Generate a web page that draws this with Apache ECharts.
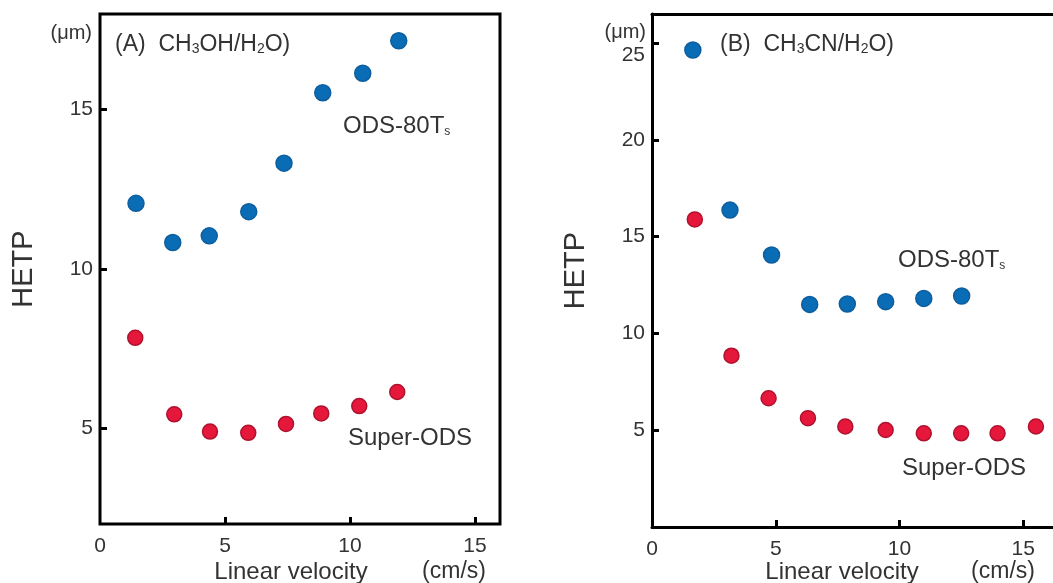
<!DOCTYPE html>
<html>
<head>
<meta charset="utf-8">
<script src="https://cdn.jsdelivr.net/npm/echarts@6/dist/echarts.min.js"></script>
<style>html,body{margin:0;padding:0;background:#fff;}#c{width:1053px;height:583px;}</style>
</head>
<body>
<div id="c"></div>
<script>
// Panel A: CH3OH/H2O
const aOdsX = [1.44, 2.91, 4.37, 5.95, 7.36, 8.91, 10.51, 11.95];
const aOdsY = [12.06, 10.83, 11.04, 11.80, 13.32, 15.53, 16.14, 17.16];
const aSupX = [1.41, 2.97, 4.40, 5.93, 7.44, 8.85, 10.37, 11.89];
const aSupY = [7.84, 5.44, 4.90, 4.86, 5.14, 5.47, 5.70, 6.14];
// Panel B: CH3CN/H2O
const bOdsX = [1.65, 3.15, 4.83, 6.37, 7.89, 9.44, 10.98, 12.51];
const bOdsY = [24.64, 16.37, 14.05, 11.50, 11.52, 11.64, 11.81, 11.93];
const bSupX = [1.73, 3.21, 4.71, 6.30, 7.81, 9.44, 10.98, 12.49, 13.96, 15.51];
const bSupY = [15.89, 8.85, 6.65, 5.62, 5.19, 5.01, 4.84, 4.84, 4.84, 5.19];
// tick labels
const xLabels = [0, 5, 10, 15];
const xTicks = [5, 10, 15];
const aYTicks = [5, 10, 15];
const bYTicks = [5, 10, 15, 20, 25];

const FONT = "'Liberation Sans', Arial, Helvetica, sans-serif";
const TXT = '#333';
const BLUE = '#0b6cb6';
const RED = '#e5173b';
const LINE = { color: '#000', width: 3 };

function pairs(xs, ys) { return xs.map((x, i) => [x, ys[i]]); }

function xAxis(gi, max, showLine) {
  return {
    type: 'value', gridIndex: gi, min: 0, max: max,
    axisLine: { show: showLine, onZero: false, lineStyle: LINE },
    splitLine: { show: false },
    axisTick: { show: true, inside: true, length: 7, customValues: xTicks, lineStyle: LINE },
    axisLabel: { customValues: xLabels, margin: 12, fontSize: 21, color: TXT, fontFamily: FONT }
  };
}
function yAxis(gi, min, max, ticks, showLine) {
  return {
    type: 'value', gridIndex: gi, min: min, max: max,
    name: 'HETP', nameLocation: 'middle', nameGap: 62, nameRotate: 90,
    nameTextStyle: { fontSize: 29, color: TXT, fontFamily: FONT },
    axisLine: { show: showLine, onZero: false, lineStyle: LINE },
    splitLine: { show: false },
    axisTick: { show: true, inside: true, length: 7, customValues: ticks, lineStyle: LINE },
    axisLabel: {
      customValues: ticks, margin: 7, fontSize: 21, color: TXT, fontFamily: FONT,
      formatter: v => (v === 25 ? '{low|' + v + '}' : '' + v),
      rich: { low: { fontSize: 21, color: TXT, fontFamily: FONT, padding: [24, 0, 0, 0] } }
    }
  };
}
function scatter(name, xi, yi, data, color, border, size) {
  return {
    type: 'scatter', name: name, xAxisIndex: xi, yAxisIndex: yi, data: data,
    symbol: 'circle', symbolSize: size,
    itemStyle: { color: color, borderColor: border, borderWidth: 1.5, opacity: 1 },
    emphasis: { disabled: true }, animation: false
  };
}
function txt(x, y, text, align, size, rich) {
  return {
    type: 'text', x: x, y: y, silent: true,
    style: { text: text, fill: TXT, font: size + 'px ' + FONT, align: align, verticalAlign: 'middle', rich: rich }
  };
}
const subRich = {
  n: { fontSize: 23, fontFamily: FONT, color: TXT, lineHeight: 28, verticalAlign: 'bottom' },
  s: { fontSize: 14, fontFamily: FONT, color: TXT, lineHeight: 20, verticalAlign: 'bottom' }
};
const odsRich = {
  n: { fontSize: 24, fontFamily: FONT, color: TXT, lineHeight: 30, verticalAlign: 'bottom' },
  s: { fontSize: 12, fontFamily: FONT, color: TXT, lineHeight: 19, verticalAlign: 'bottom' }
};

const option = {
  backgroundColor: '#fff',
  animation: false,
  grid: [
    { left: 100, top: 14, width: 400, height: 510, show: true, borderColor: '#000', borderWidth: 3, backgroundColor: 'transparent' },
    { left: 652, top: 14, right: 0, height: 513, show: false }
  ],
  xAxis: [
    xAxis(0, 16, false),
    xAxis(1, 16.2, true),
    { type: 'value', gridIndex: 1, position: 'top', min: 0, max: 16.2,
      axisLine: { show: true, onZero: false, lineStyle: LINE },
      axisTick: { show: false }, axisLabel: { show: false }, splitLine: { show: false } }
  ],
  yAxis: [yAxis(0, 2, 18, aYTicks, false), yAxis(1, 0, 26.5, bYTicks, true)],
  series: [
    scatter('ODS-80Ts (A)', 0, 0, pairs(aOdsX, aOdsY), BLUE, '#0d5e9e', 16),
    scatter('Super-ODS (A)', 0, 0, pairs(aSupX, aSupY), RED, '#b0122e', 15),
    scatter('ODS-80Ts (B)', 1, 1, pairs(bOdsX, bOdsY), BLUE, '#0d5e9e', 16),
    scatter('Super-ODS (B)', 1, 1, pairs(bSupX, bSupY), RED, '#b0122e', 15)
  ],
  graphic: [
    txt(92, 33, '(μm)', 'right', 20),
    txt(646, 32, '(μm)', 'right', 20),
    txt(115, 42, '{n|(A)  CH}{s|3}{n|OH/H}{s|2}{n|O)}', 'left', 23, subRich),
    txt(720, 42, '{n|(B)  CH}{s|3}{n|CN/H}{s|2}{n|O)}', 'left', 23, subRich),
    txt(343, 123, '{n|ODS-80T}{s|s}', 'left', 24, odsRich),
    txt(898, 257, '{n|ODS-80T}{s|s}', 'left', 24, odsRich),
    txt(348, 438, 'Super-ODS', 'left', 24),
    txt(902, 468, 'Super-ODS', 'left', 24),
    txt(291, 572, 'Linear velocity', 'center', 24),
    txt(454, 572, '(cm/s)', 'center', 23),
    txt(842, 572, 'Linear velocity', 'center', 24),
    txt(1003, 572, '(cm/s)', 'center', 23)
  ]
};
const chart = echarts.init(document.getElementById('c'), null, { renderer: 'canvas' });
chart.setOption(option);
</script>
</body>
</html>
